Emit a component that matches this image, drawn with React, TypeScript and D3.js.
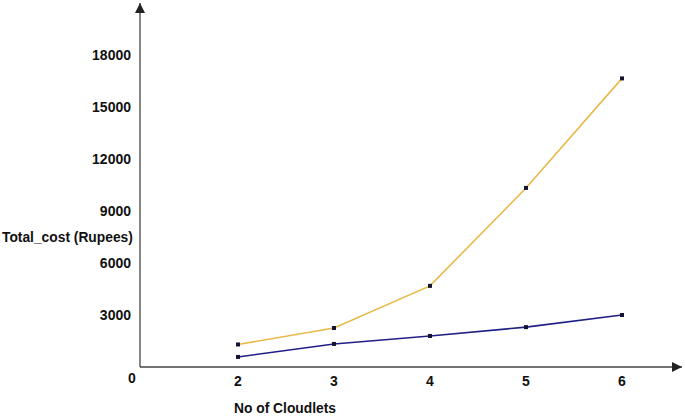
import React, { useRef, useEffect } from "react";
import * as d3 from "d3";

const cloudlets = [2, 3, 4, 5, 6];
const costYellow = [1300, 2250, 4680, 10330, 16650];
const costBlue = [580, 1330, 1790, 2300, 3000];
const yTicks = [3000, 6000, 9000, 12000, 15000, 18000];

const App = () => {
  const svgRef = useRef<SVGSVGElement>(null);

  useEffect(() => {
    const svg = d3.select(svgRef.current);
    svg.selectAll("*").remove();

    const font = "'Liberation Sans', Arial, sans-serif";

    const x = d3.scaleLinear().domain([2, 6]).range([238, 622]);
    const y = d3.scaleLinear().domain([0, 18000]).range([367, 55]);

    const axisLeft = 140;
    const axisRight = 682;
    const axisTop = 3;
    const axisBottom = y(0);

    svg
      .append("defs")
      .append("marker")
      .attr("id", "arrow")
      .attr("viewBox", "0 0 10 10")
      .attr("refX", 10)
      .attr("refY", 5)
      .attr("markerWidth", 10)
      .attr("markerHeight", 10)
      .attr("markerUnits", "userSpaceOnUse")
      .attr("orient", "auto")
      .append("path")
      .attr("d", "M0,0 L10,5 L0,10 Z")
      .attr("fill", "#222");

    // axes
    svg
      .append("line")
      .attr("x1", axisLeft)
      .attr("y1", axisBottom)
      .attr("x2", axisLeft)
      .attr("y2", axisTop)
      .attr("stroke", "#444")
      .attr("stroke-width", 1.3)
      .attr("marker-end", "url(#arrow)");

    svg
      .append("line")
      .attr("x1", axisLeft)
      .attr("y1", axisBottom)
      .attr("x2", axisRight)
      .attr("y2", axisBottom)
      .attr("stroke", "#444")
      .attr("stroke-width", 1.3)
      .attr("marker-end", "url(#arrow)");

    // y tick labels
    svg
      .append("g")
      .selectAll("text")
      .data(yTicks)
      .join("text")
      .attr("x", 131)
      .attr("y", (d) => y(d))
      .attr("dy", "0.35em")
      .attr("text-anchor", "end")
      .attr("font-family", font)
      .attr("font-weight", "bold")
      .attr("font-size", 14)
      .attr("fill", "#111")
      .text((d) => d);

    svg
      .append("text")
      .attr("x", 132)
      .attr("y", 383)
      .attr("text-anchor", "middle")
      .attr("font-family", font)
      .attr("font-weight", "bold")
      .attr("font-size", 14)
      .attr("fill", "#111")
      .text("0");

    // x tick labels
    svg
      .append("g")
      .selectAll("text")
      .data(cloudlets)
      .join("text")
      .attr("x", (d) => x(d))
      .attr("y", 386)
      .attr("text-anchor", "middle")
      .attr("font-family", font)
      .attr("font-weight", "bold")
      .attr("font-size", 14)
      .attr("fill", "#111")
      .text((d) => d);

    // axis titles
    svg
      .append("text")
      .attr("x", 2)
      .attr("y", 237)
      .attr("dy", "0.35em")
      .attr("font-family", font)
      .attr("font-weight", "bold")
      .attr("font-size", 13.8)
      .attr("fill", "#111")
      .text("Total_cost (Rupees)");

    svg
      .append("text")
      .attr("x", 234)
      .attr("y", 413)
      .attr("font-family", font)
      .attr("font-weight", "bold")
      .attr("font-size", 13.8)
      .attr("fill", "#111")
      .text("No of Cloudlets");

    const series = [
      { values: costYellow, color: "#E9B949" },
      { values: costBlue, color: "#1F1F86" },
    ];

    series.forEach((s) => {
      const pts = cloudlets.map((c, i) => [c, s.values[i]] as [number, number]);
      const line = d3
        .line<[number, number]>()
        .x((d) => x(d[0]))
        .y((d) => y(d[1]));

      svg
        .append("path")
        .datum(pts)
        .attr("fill", "none")
        .attr("stroke", s.color)
        .attr("stroke-width", 1.6)
        .attr("d", line);

      svg
        .append("g")
        .selectAll("rect")
        .data(pts)
        .join("rect")
        .attr("x", (d) => x(d[0]) - 2)
        .attr("y", (d) => y(d[1]) - 2)
        .attr("width", 4)
        .attr("height", 4)
        .attr("fill", "#141432");
    });
  }, []);

  return (
    <svg
      ref={svgRef}
      width={685}
      height={416}
      style={{ position: "absolute", left: 0, top: 0, background: "#fff" }}
    ></svg>
  );
};

export default App;
